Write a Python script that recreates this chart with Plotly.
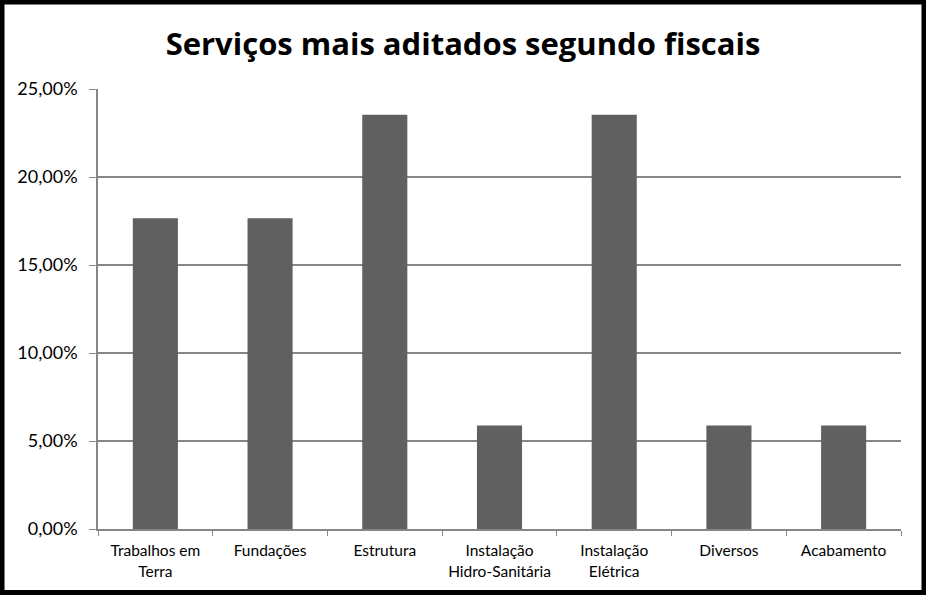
import plotly.graph_objects as go

categories = [
    "Trabalhos em<br>Terra",
    "Fundações",
    "Estrutura",
    "Instalação<br>Hidro-Sanitária",
    "Instalação<br>Elétrica",
    "Diversos",
    "Acabamento",
]
shares = [0.1765, 0.1765, 0.2353, 0.0588, 0.2353, 0.0588, 0.0588]
y_ticks = [0, 0.05, 0.10, 0.15, 0.20, 0.25]

W, H = 926, 595
L, R, T, B = 98, 25, 89, 66
pw, ph = W - L - R, H - T - B

fig = go.Figure(go.Bar(
    x=categories,
    y=shares,
    marker=dict(color="#606060", line=dict(width=0)),
    hoverinfo="x+y",
))

# black frame around the whole chart area
fig.add_shape(
    type="rect", xref="paper", yref="paper",
    x0=(-L + 2) / pw, x1=(W - L - 2) / pw,
    y0=(-B + 2.5) / ph, y1=(H - B - 2) / ph,
    line=dict(color="black", width=5), fillcolor="rgba(0,0,0,0)",
    layer="above",
)

fig.update_layout(
    width=W, height=H,
    margin=dict(l=L, r=R, t=T, b=B),
    paper_bgcolor="white",
    plot_bgcolor="white",
    separators=",.",
    bargap=0.607,
    font=dict(family="Lato, Open Sans, sans-serif", color="black"),
    title=dict(
        text="<b>Serviços mais aditados segundo fiscais</b>",
        x=0.5, xanchor="center", y=0.925, yanchor="middle",
        font=dict(size=31, family="Open Sans, sans-serif", color="black"),
    ),
    xaxis=dict(
        type="category",
        showgrid=False,
        showline=True, linecolor="#868686", linewidth=1.5,
        ticks="outside", tickson="boundaries", ticklen=5, tickcolor="#868686",
        ticklabelstandoff=7,
        tickfont=dict(size=15.5, family="Lato, sans-serif"),
    ),
    yaxis=dict(
        range=[0, 0.25],
        tickvals=y_ticks,
        tickformat=".2%",
        showgrid=True, gridcolor="#868686", gridwidth=1.5,
        showline=True, linecolor="#868686", linewidth=1.5,
        ticks="outside", ticklen=7, tickcolor="#868686",
        ticklabelstandoff=8,
        tickfont=dict(size=18, family="Lato, sans-serif"),
        zeroline=False,
    ),
    showlegend=False,
)

fig.write_html(
    "out.html",
    config={"displayModeBar": False},
    post_script="document.body.style.margin='0';",
)
